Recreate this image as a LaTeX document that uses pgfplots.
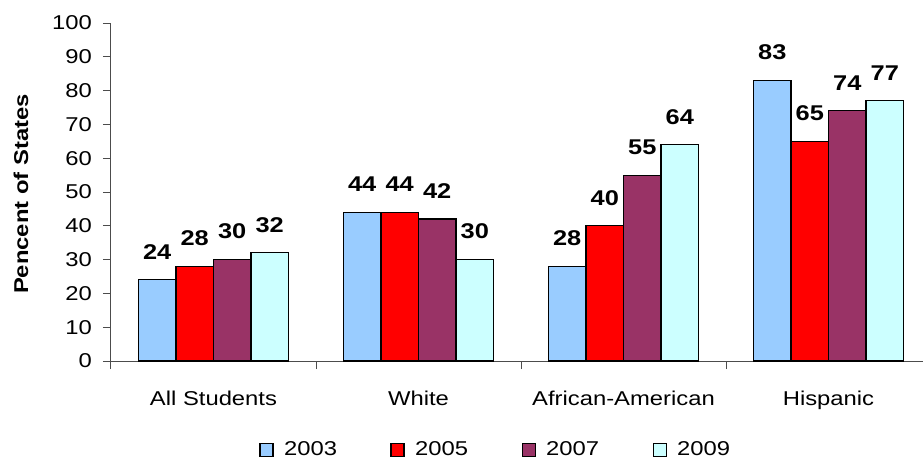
\documentclass[border=0pt]{standalone}
\usepackage{pgfplots}
\pgfplotsset{compat=1.18}
\usepackage{fontspec}
\setmainfont{Liberation Sans}[FakeStretch=1.19]
\definecolor{cA}{HTML}{99CCFF}
\definecolor{cB}{HTML}{FF0000}
\definecolor{cC}{HTML}{993366}
\definecolor{cD}{HTML}{CCFFFF}
\begin{document}
\begin{tikzpicture}
\path[use as bounding box] (-83.25pt,-72.75pt) rectangle (609pt,270.75pt);
\begin{axis}[
  at={(0pt,0pt)}, anchor=south west,
  width=609pt, height=253.5pt, scale only axis,
  ybar=0pt, bar width=28.125pt,
  enlargelimits=false,
  xmin=-0.5, xmax=3.461, ymin=0, ymax=100,
  axis x line*=bottom, axis y line*=left,
  axis line style={black!70, line width=0.75pt},
  tick style={black!70, line width=0.75pt},
  tick align=outside, major tick length=6pt,
  ytick={0,10,...,100},
  xtick={-0.5,0.5,1.5,2.5}, xticklabels={,,,},
  extra x ticks={0,1,2,3},
  extra x tick labels={All Students,White,African-American,Hispanic},
  extra x tick style={major tick length=0pt, tick style={draw=none}, xticklabel style={yshift=-18.75pt}},
  /pgf/number format/assume math mode=true,
  tick label style={font=\fontsize{15}{18}\selectfont},
  yticklabel style={xshift=-4.75pt},
  ylabel={Pencent of States},
  ylabel style={at={(axis description cs:-0.111,0.494)}, anchor=center, font=\fontsize{15}{18}\selectfont\bfseries},
  every axis plot/.append style={draw=black, line width=0.9pt,
    legend image code/.code={\draw[##1, line width=0.8pt] (0pt,-4.875pt) rectangle (9.75pt,4.875pt);}},
  nodes near coords,
  every node near coord/.append style={font=\fontsize{16}{19}\selectfont\bfseries, anchor=base, yshift=15.5pt, text=black},
  legend columns=4,
  legend style={at={(0.4727,-0.2633)}, anchor=center, draw=none, fill=none,
    font=\fontsize{15}{18}\selectfont, nodes={inner sep=0pt},
    /tikz/every odd column/.append style={column sep=8pt},
    /tikz/every even column/.append style={column sep=40pt}},
  legend cell align=left,
]
\addplot[fill=cA] coordinates {(0,24) (1,44) (2,28) (3,83)};
\addplot[fill=cB] coordinates {(0,28) (1,44) (2,40) (3,65)};
\addplot[fill=cC] coordinates {(0,30) (1,42) (2,55) (3,74)};
\addplot[fill=cD] coordinates {(0,32) (1,30) (2,64) (3,77)};
\legend{2003,2005,2007,2009}
\end{axis}
\end{tikzpicture}
\end{document}
